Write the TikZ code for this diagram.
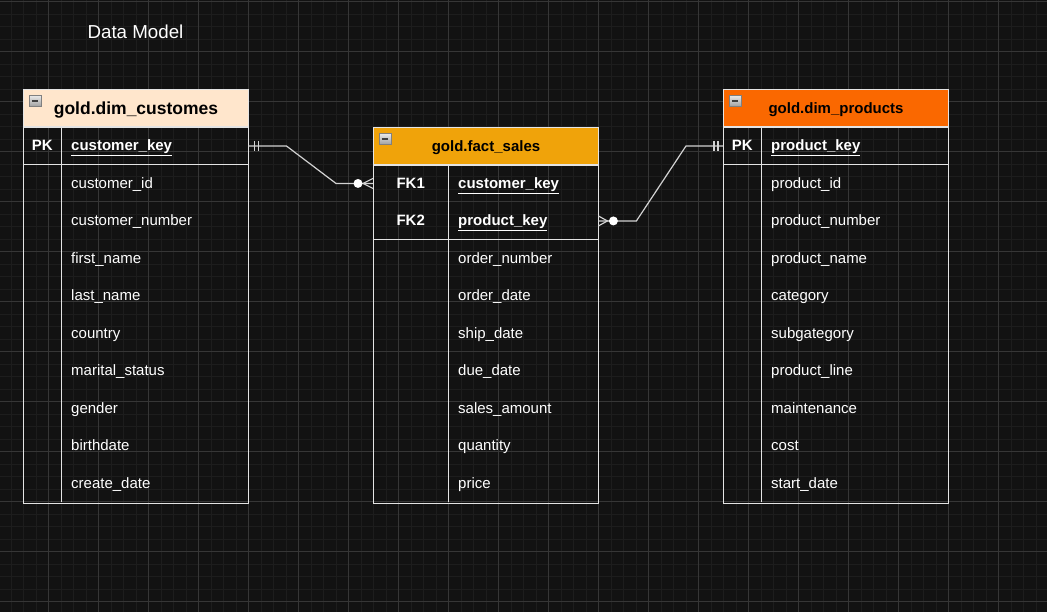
\documentclass[tikz,border=0pt]{standalone}
\usepackage{fontspec}
\setmainfont{Liberation Sans}
\usetikzlibrary{arrows.meta,positioning}

\definecolor{canvas}{RGB}{18,18,18}
\definecolor{gridminor}{RGB}{29,29,29}
\definecolor{gridmajor}{RGB}{54,54,54}
\definecolor{tableline}{RGB}{228,228,228}
\definecolor{linkline}{RGB}{210,210,210}
\definecolor{custfill}{HTML}{FFE6CC}
\definecolor{factfill}{HTML}{F0A30A}
\definecolor{prodfill}{HTML}{FA6800}
\newcommand{\keyname}[1]{\textbf{\underline{#1}}}
\newcommand{\rowfont}{\fontsize{15}{18}\selectfont}

\begin{document}
\begin{tikzpicture}[
  x=1pt, y=-1pt,
  tablehead/.style={draw=tableline, line width=1pt, anchor=north west, minimum width=225pt, minimum height=37.5pt, inner sep=0pt, text height=10.6pt, text depth=0pt, text=black, font=\bfseries\rowfont},
  tablebox/.style={draw=tableline, line width=1pt, anchor=north west, minimum width=225pt, minimum height=375pt, inner sep=0pt},
  keytag/.style={anchor=north west, minimum height=37.5pt, inner sep=0pt, text height=10pt, text depth=0pt, text=white, font=\bfseries\rowfont},
  fieldcell/.style={anchor=north west, minimum height=37.5pt, inner xsep=10pt, inner ysep=0pt, text height=10pt, text depth=0pt, align=left, text=white, font=\rowfont},
  foldicon/.style={draw=gray, top color=white!92!black, bottom color=white!62!black, minimum size=11.5pt, inner sep=0pt, anchor=north west},
  foldbar/.style={draw=black!75, line width=1.5pt},
  divline/.style={draw=tableline, line width=1pt},
  relline/.style={draw=linkline, line width=1.2pt}
]
\useasboundingbox (0,0) rectangle (1047,612);

% canvas and grid
\fill[canvas] (0,0) rectangle (1047,612);
\foreach \gx in {-1.7,10.8,...,1050} \draw[gridminor] (\gx,0) -- (\gx,612);
\foreach \gy in {1.5,14,...,615} \draw[gridminor] (0,\gy) -- (1047,\gy);
\foreach \gx in {48.3,98.3,...,1050} \draw[gridmajor] (\gx,0) -- (\gx,612);
\foreach \gy in {1.5,51.5,...,615} \draw[gridmajor] (0,\gy) -- (1047,\gy);

\node[text=white, font=\fontsize{18.75}{22}\selectfont] (title) at (135.5,32) {Data Model};

% gold.dim_customes
\node[tablehead, fill=custfill, text height=12pt, font=\bfseries\fontsize{17.5}{21}\selectfont] (cust-head) at (23,89) {gold.dim\_customes};
\node[tablebox] (cust-box) at (cust-head.south west) {};
\node[foldicon] (cust-fold) at ([xshift=6pt,yshift=-6pt]cust-head.north west) {};
\draw[foldbar] ([xshift=2.5pt]cust-fold.west) -- ([xshift=-2.5pt]cust-fold.east);
\node[keytag, minimum width=38pt] (cust-t0) at (23,127) {PK};
\node[fieldcell, text width=167pt] (cust-f0) at (61,127) {\keyname{customer\_key}};
\foreach \fname [count=\i] in {customer\_id, customer\_number, first\_name, last\_name, country, marital\_status, gender, birthdate, create\_date}
  \node[fieldcell, text width=167pt] (cust-f\i) at (61,{127+37.5*\i}) {\fname};
\draw[divline] (cust-f0.north west) -- (cust-f9.south west);
\draw[divline] (cust-t0.south west) -- (cust-f0.south east);

% gold.fact_sales
\node[tablehead, fill=factfill] (fact-head) at (373,127) {gold.fact\_sales};
\node[tablebox, minimum height=337.5pt] (fact-box) at (fact-head.south west) {};
\node[foldicon] (fact-fold) at ([xshift=6pt,yshift=-6pt]fact-head.north west) {};
\draw[foldbar] ([xshift=2.5pt]fact-fold.west) -- ([xshift=-2.5pt]fact-fold.east);
\node[keytag, minimum width=75pt] (fact-t0) at (373,164.5) {FK1};
\node[keytag, minimum width=75pt] (fact-t1) at (373,202) {FK2};
\node[fieldcell, text width=130pt] (fact-f0) at (448,164.5) {\keyname{customer\_key}};
\node[fieldcell, text width=130pt] (fact-f1) at (448,202) {\keyname{product\_key}};
\foreach \fname [count=\i from 2] in {order\_number, order\_date, ship\_date, due\_date, sales\_amount, quantity, price}
  \node[fieldcell, text width=130pt] (fact-f\i) at (448,{164.5+37.5*\i}) {\fname};
\draw[divline] (fact-f0.north west) -- (fact-f8.south west);
\draw[divline] (fact-t1.south west) -- (fact-f1.south east);

% gold.dim_products
\node[tablehead, fill=prodfill] (prod-head) at (723,89) {gold.dim\_products};
\node[tablebox] (prod-box) at (prod-head.south west) {};
\node[foldicon] (prod-fold) at ([xshift=6pt,yshift=-6pt]prod-head.north west) {};
\draw[foldbar] ([xshift=2.5pt]prod-fold.west) -- ([xshift=-2.5pt]prod-fold.east);
\node[keytag, minimum width=38pt] (prod-t0) at (723,127) {PK};
\node[fieldcell, text width=167pt] (prod-f0) at (761,127) {\keyname{product\_key}};
\foreach \fname [count=\i] in {product\_id, product\_number, product\_name, category, subgategory, product\_line, maintenance, cost, start\_date}
  \node[fieldcell, text width=167pt] (prod-f\i) at (761,{127+37.5*\i}) {\fname};
\draw[divline] (prod-f0.north west) -- (prod-f9.south west);
\draw[divline] (prod-t0.south west) -- (prod-f0.south east);

% customer_key: one to zero-or-many
\draw[relline] (cust-f0.east) -- ++(38,0) -- ([xshift=-37pt]fact-t0.west) -- (fact-t0.west);
\draw[relline] ([xshift=6pt,yshift=5pt]cust-f0.east) -- ([xshift=6pt,yshift=-5pt]cust-f0.east);
\draw[relline] ([xshift=10pt,yshift=5pt]cust-f0.east) -- ([xshift=10pt,yshift=-5pt]cust-f0.east);
\draw[relline] ([yshift=5pt]fact-t0.west) -- ([xshift=-10pt]fact-t0.west) -- ([yshift=-5pt]fact-t0.west);
\fill[white] ([xshift=-15pt]fact-t0.west) circle (4.5pt);

% product_key: zero-or-many to one
\draw[relline] (fact-f1.east) -- ++(38,0) -- ([xshift=-37pt]prod-t0.west) -- (prod-t0.west);
\draw[relline] ([yshift=5pt]fact-f1.east) -- ([xshift=9pt]fact-f1.east) -- ([yshift=-5pt]fact-f1.east);
\fill[white] ([xshift=15pt]fact-f1.east) circle (4.5pt);
\draw[relline] ([xshift=-9pt,yshift=5pt]prod-t0.west) -- ([xshift=-9pt,yshift=-5pt]prod-t0.west);
\draw[relline] ([xshift=-5pt,yshift=5pt]prod-t0.west) -- ([xshift=-5pt,yshift=-5pt]prod-t0.west);
\end{tikzpicture}
\end{document}
